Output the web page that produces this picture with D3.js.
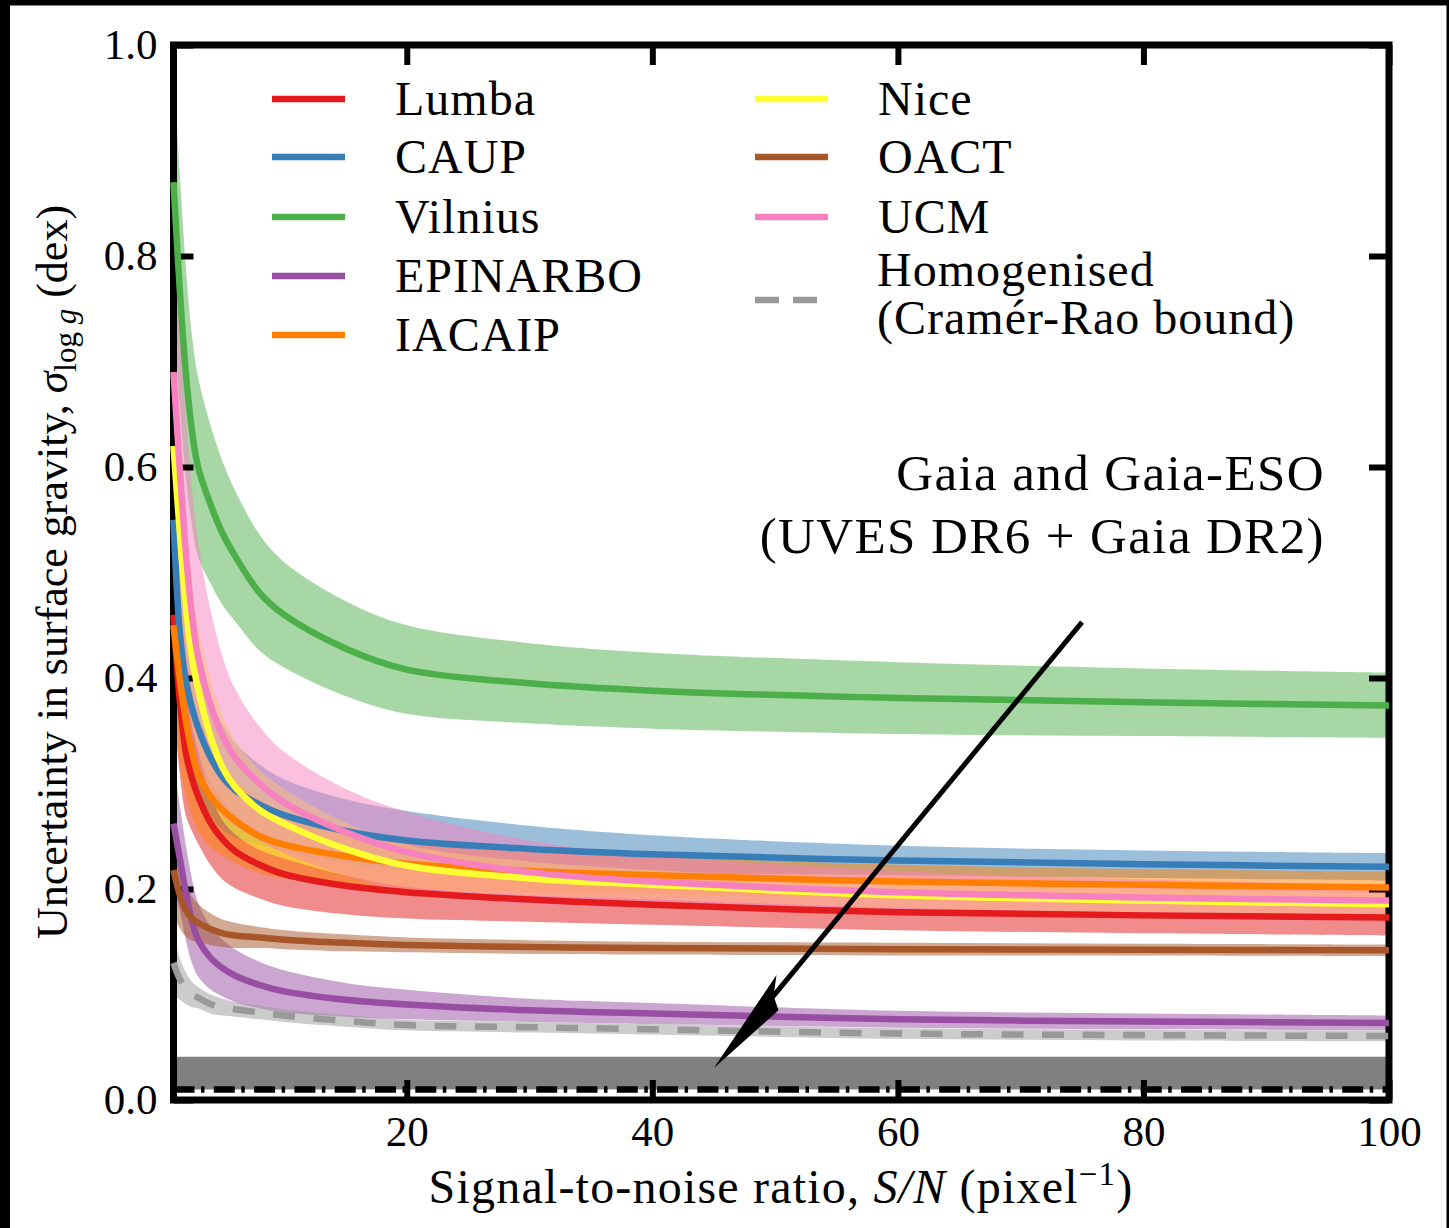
<!DOCTYPE html>
<html>
<head>
<meta charset="utf-8">
<script src="https://cdn.jsdelivr.net/npm/d3@7"></script>
<style>
  body { margin: 0; background: #000; }
  text { font-family: "Liberation Serif", serif; fill: #000; }
</style>
</head>
<body>
<div id="chart"></div>
<script>
var snr = [1, 1.5, 2, 2.5, 3, 4, 5, 6, 8, 10, 15, 20, 30, 40, 60, 80, 100];

var lumba     = [0.46, 0.38, 0.33, 0.305, 0.288, 0.263, 0.247, 0.236, 0.223, 0.214, 0.203, 0.197, 0.19, 0.185, 0.178, 0.175, 0.173];
var lumbaErr  = [0.08, 0.07, 0.06, 0.05, 0.045, 0.04, 0.038, 0.035, 0.032, 0.03, 0.027, 0.025, 0.021, 0.019, 0.017, 0.017, 0.017];
var caup      = [0.55, 0.445, 0.398, 0.372, 0.353, 0.325, 0.306, 0.294, 0.28, 0.27, 0.255, 0.246, 0.238, 0.233, 0.227, 0.2235, 0.221];
var caupErr   = [0.10, 0.09, 0.08, 0.07, 0.065, 0.055, 0.05, 0.045, 0.038, 0.034, 0.03, 0.028, 0.022, 0.018, 0.014, 0.013, 0.013];
var vilnius   = [0.87, 0.77, 0.69, 0.635, 0.60, 0.565, 0.537, 0.516, 0.481, 0.46, 0.428, 0.408, 0.395, 0.388, 0.381, 0.377, 0.374];
var vilniusErr= [0.12, 0.11, 0.10, 0.09, 0.085, 0.075, 0.068, 0.062, 0.055, 0.05, 0.045, 0.042, 0.038, 0.036, 0.034, 0.032, 0.031];
var epinarbo  = [0.262, 0.23, 0.197, 0.17, 0.152, 0.135, 0.125, 0.118, 0.109, 0.103, 0.095, 0.0905, 0.085, 0.082, 0.0765, 0.0745, 0.073];
var epinarboErr=[0.06, 0.05, 0.045, 0.04, 0.035, 0.03, 0.027, 0.025, 0.022, 0.02, 0.016, 0.014, 0.011, 0.01, 0.008, 0.0075, 0.007];
var iacaip    = [0.45, 0.40, 0.36, 0.33, 0.31, 0.288, 0.275, 0.265, 0.25, 0.242, 0.231, 0.224, 0.217, 0.213, 0.207, 0.204, 0.2015];
var iacaipErr = [0.09, 0.08, 0.07, 0.06, 0.055, 0.048, 0.043, 0.04, 0.035, 0.032, 0.027, 0.024, 0.02, 0.018, 0.016, 0.015, 0.015];
var nice      = [0.62, 0.54, 0.47, 0.42, 0.39, 0.345, 0.315, 0.297, 0.275, 0.262, 0.238, 0.222, 0.21, 0.204, 0.194, 0.189, 0.1855];
var niceErr   = [0.08, 0.075, 0.07, 0.065, 0.06, 0.055, 0.05, 0.045, 0.038, 0.033, 0.025, 0.02, 0.016, 0.014, 0.012, 0.011, 0.01];
var oact      = [0.218, 0.195, 0.18, 0.172, 0.168, 0.162, 0.158, 0.156, 0.154, 0.152, 0.149, 0.147, 0.145, 0.144, 0.143, 0.1425, 0.142];
var oactErr   = [0.04, 0.032, 0.025, 0.021, 0.018, 0.015, 0.013, 0.012, 0.01, 0.009, 0.008, 0.007, 0.0065, 0.006, 0.006, 0.0055, 0.0055];
var ucm       = [0.69, 0.60, 0.52, 0.46, 0.42, 0.375, 0.345, 0.325, 0.30, 0.282, 0.254, 0.235, 0.216, 0.207, 0.197, 0.192, 0.189];
var ucmErr    = [0.15, 0.14, 0.13, 0.12, 0.11, 0.09, 0.075, 0.065, 0.054, 0.048, 0.041, 0.038, 0.03, 0.025, 0.02, 0.017, 0.015];
var homog     = [0.13, 0.115, 0.106, 0.10, 0.097, 0.091, 0.088, 0.086, 0.083, 0.08, 0.075, 0.071, 0.069, 0.067, 0.063, 0.0615, 0.0607];
var homogErr  = [0.03, 0.02, 0.015, 0.012, 0.01, 0.009, 0.008, 0.007, 0.0065, 0.006, 0.0055, 0.005, 0.005, 0.005, 0.005, 0.005, 0.005];

var groupNames = ["Lumba", "CAUP", "Vilnius", "EPINARBO", "IACAIP", "Nice", "OACT", "UCM"];
var groupColors = ["#e41a1c", "#377eb8", "#4daf4a", "#984ea3", "#ff7f00", "#ffff33", "#a65628", "#f781bf"];
var groupValues = [lumba, caup, vilnius, epinarbo, iacaip, nice, oact, ucm];
var groupErrors = [lumbaErr, caupErr, vilniusErr, epinarboErr, iacaipErr, niceErr, oactErr, ucmErr];

// Gaia benchmark level and its band
var gaiaLevel = 0.01;
var gaiaBand = [0.01, 0.041];

var xTicks = [20, 40, 60, 80, 100];
var yTicks = [0.0, 0.2, 0.4, 0.6, 0.8, 1.0];

// annotation arrow, data coords: [from, to]
var arrowFrom = [75, 0.453], arrowTo = [45, 0.03];

var width = 1449, height = 1228;

var svg = d3.select("#chart")
  .append("svg")
  .attr("width", width)
  .attr("height", height);

svg.append("rect").attr("width", width).attr("height", height).attr("fill", "#000");
svg.append("rect")
  .attr("x", 10).attr("y", 5.5)
  .attr("width", 1436.5).attr("height", height - 5.5)
  .attr("fill", "#fff");

var x = d3.scaleLinear().domain([1, 100]).range([173.5, 1389]);
var y = d3.scaleLinear().domain([0, 1]).range([1100, 45]);

svg.append("clipPath").attr("id", "plot-clip")
  .append("rect")
  .attr("x", x(1)).attr("y", y(1))
  .attr("width", x(100) - x(1)).attr("height", y(0) - y(1));

var bands = svg.append("g").attr("clip-path", "url(#plot-clip)");

var area = d3.area()
  .x(function(d) { return x(d.s); })
  .y0(function(d) { return y(d.v - d.e); })
  .y1(function(d) { return y(d.v + d.e); })
  .curve(d3.curveCatmullRom.alpha(0.5));

var line = d3.line()
  .x(function(d) { return x(d.s); })
  .y(function(d) { return y(d.v); })
  .curve(d3.curveCatmullRom.alpha(0.5));

function rows(vals, errs) {
  return snr.map(function(s, i) { return { s: s, v: vals[i], e: errs[i] }; });
}

groupValues.forEach(function(vals, i) {
  bands.append("path")
    .attr("d", area(rows(vals, groupErrors[i])))
    .attr("fill", groupColors[i])
    .attr("fill-opacity", 0.5);
});
bands.append("path")
  .attr("d", area(rows(homog, homogErr)))
  .attr("fill", "#999999")
  .attr("fill-opacity", 0.5);

// Gaia band + dash-dot level
bands.append("rect")
  .attr("x", x(1)).attr("width", x(100) - x(1))
  .attr("y", y(gaiaBand[1])).attr("height", y(gaiaBand[0]) - y(gaiaBand[1]))
  .attr("fill", "#808080");
bands.append("line")
  .attr("x1", x(1)).attr("x2", x(100))
  .attr("y1", y(gaiaLevel)).attr("y2", y(gaiaLevel))
  .attr("stroke", "#000").attr("stroke-width", 6.5)
  .attr("stroke-dasharray", "21,6.5,3.5,9.3");

// axes, ticks pointing inwards
var axB = svg.append("g").attr("transform", "translate(0," + y(0) + ")")
  .call(d3.axisBottom(x).tickValues(xTicks).tickSize(-20).tickPadding(15).tickFormat(d3.format("d")));
var axT = svg.append("g").attr("transform", "translate(0," + y(1) + ")")
  .call(d3.axisTop(x).tickValues(xTicks).tickSize(-20).tickFormat(""));
var axL = svg.append("g").attr("transform", "translate(" + x(1) + ",0)")
  .call(d3.axisLeft(y).tickValues(yTicks).tickSize(-20).tickPadding(16).tickFormat(d3.format(".1f")));
var axR = svg.append("g").attr("transform", "translate(" + x(100) + ",0)")
  .call(d3.axisRight(y).tickValues(yTicks).tickSize(-20).tickFormat(""));

[axB, axT, axL, axR].forEach(function(a) {
  a.select(".domain").remove();
  a.selectAll(".tick line").attr("stroke", "#000").attr("stroke-width", 6);
  a.selectAll("text")
    .style("font-family", "'Liberation Serif', serif")
    .style("font-size", "43px")
    .attr("fill", "#000");
});

svg.append("rect")
  .attr("x", x(1)).attr("y", y(1))
  .attr("width", x(100) - x(1)).attr("height", y(0) - y(1))
  .attr("fill", "none").attr("stroke", "#000").attr("stroke-width", 7);

// lines on top
groupValues.forEach(function(vals, i) {
  svg.append("path")
    .attr("d", line(rows(vals, groupErrors[i])))
    .attr("fill", "none")
    .attr("stroke", groupColors[i])
    .attr("stroke-width", 6.5);
});
svg.append("path")
  .attr("d", line(rows(homog, homogErr)))
  .attr("fill", "none")
  .attr("stroke", "#999999")
  .attr("stroke-width", 6.5)
  .attr("stroke-dasharray", "22,18.5");

// arrow
var ax0 = x(arrowFrom[0]), ay0 = y(arrowFrom[1]), ax1 = x(arrowTo[0]), ay1 = y(arrowTo[1]);
var len = Math.hypot(ax0 - ax1, ay0 - ay1);
var ux = (ax0 - ax1) / len, uy = (ay0 - ay1) / len;
var vx = -uy, vy = ux;
svg.append("line")
  .attr("x1", ax0).attr("y1", ay0)
  .attr("x2", ax1 + ux * 90).attr("y2", ay1 + uy * 90)
  .attr("stroke", "#000").attr("stroke-width", 5);
svg.append("polygon")
  .attr("points", [
    [ax1, ay1],
    [ax1 + ux * 112 - vx * 11, ay1 + uy * 112 - vy * 11],
    [ax1 + ux * 94, ay1 + uy * 94],
    [ax1 + ux * 86 + vx * 13, ay1 + uy * 86 + vy * 13]
  ].map(function(p) { return p.join(","); }).join(" "))
  .attr("fill", "#000");

svg.append("text")
  .attr("x", 1325).attr("y", 490)
  .attr("text-anchor", "end")
  .style("font-size", "51px").style("letter-spacing", "1.4px")
  .text("Gaia and Gaia-ESO");
svg.append("text")
  .attr("x", 1325).attr("y", 553)
  .attr("text-anchor", "end")
  .style("font-size", "51px").style("letter-spacing", "1.4px")
  .text("(UVES DR6 + Gaia DR2)");

// legend
var legend = svg.append("g").style("font-size", "48px").style("letter-spacing", "1px");
var legRows = [99, 157, 217, 276, 335];
groupNames.forEach(function(name, i) {
  var col = i < 5 ? 0 : 1;
  var ly = col === 0 ? legRows[i] : legRows[i - 5];
  var lx = col === 0 ? 272 : 755;
  legend.append("line")
    .attr("x1", lx).attr("x2", lx + 73)
    .attr("y1", ly).attr("y2", ly)
    .attr("stroke", groupColors[i]).attr("stroke-width", 6.5);
  legend.append("text")
    .attr("x", lx + 123).attr("y", ly + 16)
    .text(name);
});
legend.append("line")
  .attr("x1", 755).attr("x2", 828)
  .attr("y1", 300).attr("y2", 300)
  .attr("stroke", "#999999").attr("stroke-width", 6.5)
  .attr("stroke-dasharray", "24,14");
legend.append("text").attr("x", 877).attr("y", 286).text("Homogenised");
legend.append("text").attr("x", 877).attr("y", 334).text("(Cramér-Rao bound)");

// axis labels
var xl = svg.append("text")
  .attr("x", 781).attr("y", 1203)
  .attr("text-anchor", "middle")
  .style("font-size", "48px").style("letter-spacing", "1.2px");
xl.append("tspan").text("Signal-to-noise ratio, ");
xl.append("tspan").style("font-style", "italic").text("S/N");
xl.append("tspan").text(" (pixel");
xl.append("tspan").attr("dy", -18).style("font-size", "33px").text("\u22121");
xl.append("tspan").attr("dy", 18).text(")");

var yl = svg.append("text")
  .attr("transform", "translate(67,572) rotate(-90)")
  .attr("text-anchor", "middle")
  .style("font-size", "44px");
yl.append("tspan").text("Uncertainty in surface gravity, ");
yl.append("tspan").style("font-style", "italic").text("\u03c3");
yl.append("tspan").attr("dy", 9).style("font-size", "31px").text("log ");
yl.append("tspan").style("font-size", "31px").style("font-style", "italic").text("g");
yl.append("tspan").attr("dy", -9).text(" (dex)");
</script>
</body>
</html>
